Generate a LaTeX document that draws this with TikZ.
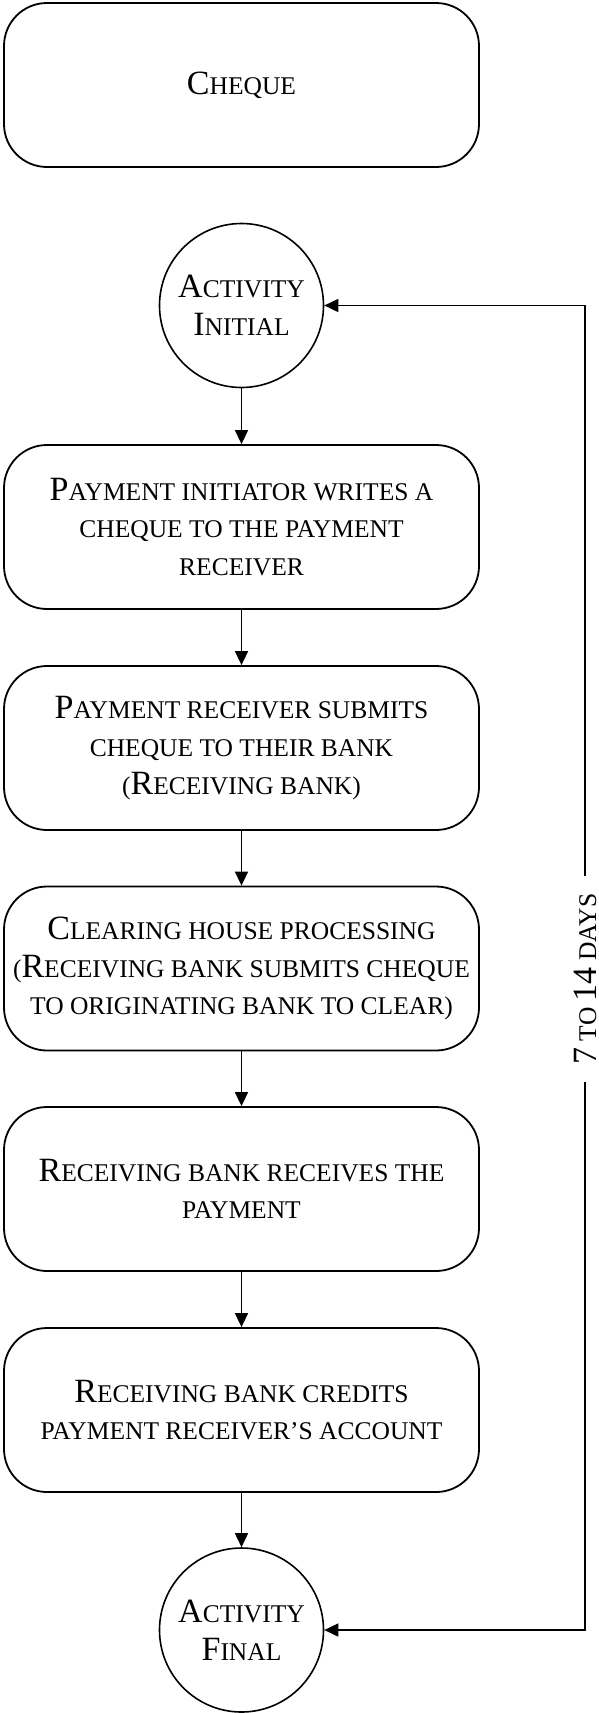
\documentclass[tikz,border=0pt]{standalone}
\usepackage{fontspec}
\setmainfont{Liberation Serif}
\usetikzlibrary{arrows.meta}
% full-size capital for hand-made small caps
\newcommand\bg[1]{{\fontsize{34}{37.7}\selectfont #1}}

\begin{document}
\begin{tikzpicture}[x=1pt,y=-1pt,
  card/.style={draw, line width=1.8pt, rounded corners=43pt,
    minimum width=475pt, minimum height=164pt, align=center, inner sep=0pt,
    font=\fontsize{25.5}{37.7}\selectfont},
  endpt/.style={draw, circle, line width=1.6pt, minimum size=164pt,
    inner sep=0pt, align=center, font=\fontsize{25.5}{37.7}\selectfont},
  flow/.style={line width=1.6pt, -{Triangle[length=14pt,width=13pt]}},
  span/.style={rotate=90, inner xsep=17pt, inner ysep=0pt,
    font=\fontsize{25.5}{30}\selectfont}]
\useasboundingbox (0,0) rectangle (599,1713);

\node[card] (title) at (241.5,85) {\bg{C}HEQUE};
\node[endpt] (init) at (241.5,305.5) {\bg{A}CTIVITY\\\bg{I}NITIAL};
\node[card] (s1) at (241.5,527) {\bg{P}AYMENT INITIATOR WRITES A\\CHEQUE TO THE PAYMENT\\RECEIVER};
\node[card] (s2) at (241.5,748) {\bg{P}AYMENT RECEIVER SUBMITS\\CHEQUE TO THEIR BANK\\(\bg{R}ECEIVING BANK)};
\node[card] (s3) at (241.5,968.5) {\bg{C}LEARING HOUSE PROCESSING\\(\bg{R}ECEIVING BANK SUBMITS CHEQUE\\TO ORIGINATING BANK TO CLEAR)};
\node[card] (s4) at (241.5,1189) {\bg{R}ECEIVING BANK RECEIVES THE\\PAYMENT};
\node[card] (s5) at (241.5,1410) {\bg{R}ECEIVING BANK CREDITS\\PAYMENT RECEIVER’S ACCOUNT};
\node[endpt] (fin) at (241.5,1630) {\bg{A}CTIVITY\\\bg{F}INAL};

% duration label on the return line
\node[span] (days) at (585,979) {\bg{7} TO \bg{14} DAYS};

\draw[flow] (init) -- (s1);
\draw[flow] (s1) -- (s2);
\draw[flow] (s2) -- (s3);
\draw[flow] (s3) -- (s4);
\draw[flow] (s4) -- (s5);
\draw[flow] (s5) -- (fin);
\draw[flow] (days.east) |- (init.east);
\draw[flow] (days.west) |- (fin.east);
\end{tikzpicture}
\end{document}
